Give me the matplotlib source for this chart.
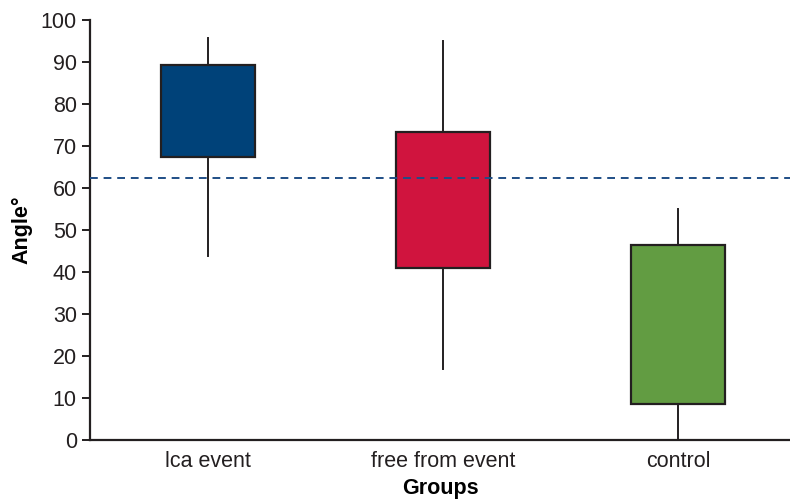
import matplotlib.pyplot as plt

plt.rcParams['font.family'] = ['Liberation Sans', 'DejaVu Sans']

# data
groups = ["lca event", "free from event", "control"]
q1 = [67.4, 41.0, 8.6]
q3 = [89.3, 73.3, 46.4]
whislo = [43.8, 16.9, 0.0]
whishi = [95.7, 95.0, 55.0]
reference_angle = 62.4

colors = ["#004279", "#d0143e", "#629c42"]

stats = []
for i, g in enumerate(groups):
    stats.append({
        "label": g,
        "q1": q1[i], "q3": q3[i],
        "med": (q1[i] + q3[i]) / 2,
        "whislo": whislo[i], "whishi": whishi[i],
        "fliers": [],
    })

fig = plt.figure(figsize=(7.9, 5.0), dpi=100)
ax = fig.add_axes([0.114, 0.12, 0.886, 0.84])

bp = ax.bxp(stats, positions=[1, 2, 3], widths=0.397, patch_artist=True,
            showcaps=False, showfliers=False,
            boxprops=dict(edgecolor="#231f20", linewidth=1.6),
            whiskerprops=dict(color="#231f20", linewidth=1.4),
            medianprops=dict(linewidth=0))
for patch, c in zip(bp["boxes"], colors):
    patch.set_facecolor(c)
    patch.set_zorder(3)
for w in bp["whiskers"]:
    w.set_zorder(2)

ax.axhline(reference_angle, color="#1f4e86", linestyle=(0, (4, 3)),
           linewidth=1.4, zorder=4)

ax.set_xlim(0.498, 3.477)
ax.set_ylim(0, 100)
ax.set_yticks(range(0, 101, 10))
ax.spines["top"].set_visible(False)
ax.spines["right"].set_visible(False)
ax.spines["left"].set_linewidth(1.6)
ax.spines["bottom"].set_linewidth(1.6)
ax.spines["left"].set_color("#231f20")
ax.spines["bottom"].set_color("#231f20")
ax.tick_params(axis="y", length=6, width=1.4, labelsize=15.5, colors="#231f20")
ax.tick_params(axis="x", length=0, labelsize=15.5, pad=8, colors="#231f20")

ax.set_ylabel("Angle°", fontsize=15.5, fontweight="bold", labelpad=6)
ax.set_xlabel("Groups", fontsize=15.5, fontweight="bold", labelpad=4)

fig.savefig("out.png", dpi=100)
